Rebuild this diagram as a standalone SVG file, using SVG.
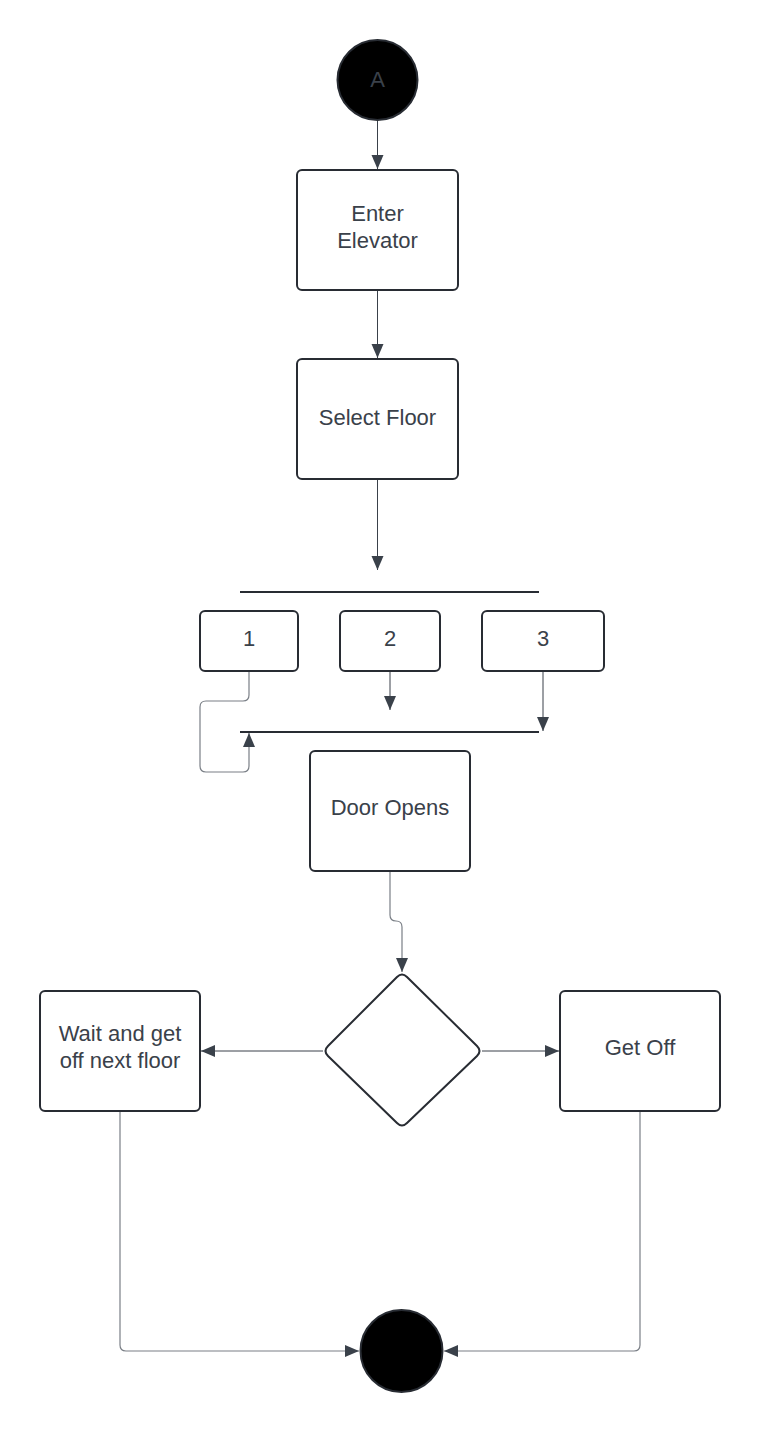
<svg xmlns="http://www.w3.org/2000/svg" width="760" height="1431" viewBox="0 0 760 1431">
<style>
.box{fill:#fff;stroke:#282c33;stroke-width:2}
.bar{stroke:#282c33;stroke-width:2}
.t{font-family:"Liberation Sans",Arial,sans-serif;font-size:22px;fill:#3a414a;text-anchor:middle}
.c{fill:none;stroke:#3a414a;stroke-width:1}
.g{fill:none;stroke:#7a7f86;stroke-width:1.2}
</style>
<defs>
<marker id="ah" markerWidth="14" markerHeight="14" viewBox="0 0 14 14" refX="14" refY="7" orient="auto" markerUnits="userSpaceOnUse">
<path d="M0,1 L14,7 L0,13 Z" fill="#3a414a"/>
</marker>
</defs>
<rect width="760" height="1431" fill="#fff"/>
<g id="connectors">
<path class="c" d="M377.5,121 V169" marker-end="url(#ah)"/>
<path class="c" d="M377.5,291 V358" marker-end="url(#ah)"/>
<path class="c" d="M377.5,480 V570" marker-end="url(#ah)"/>
<path class="g" d="M249,672 V695 Q249,701 243,701 H206 Q200,701 200,707 V766 Q200,772 206,772 H243 Q249,772 249,766 V733" marker-end="url(#ah)"/>
<path class="c" d="M390,672 V710" marker-end="url(#ah)"/>
<path class="c" d="M543,672 V731" marker-end="url(#ah)"/>
<path class="g" d="M390,872 V915 Q390,921 396,921 Q402,921 402,927 V972" marker-end="url(#ah)"/>
<path class="c" d="M323,1051 H201" marker-end="url(#ah)"/>
<path class="c" d="M482,1051 H559" marker-end="url(#ah)"/>
<path class="g" d="M120,1112 V1345 Q120,1351 126,1351 H359" marker-end="url(#ah)"/>
<path class="g" d="M640,1112 V1345 Q640,1351 634,1351 H444" marker-end="url(#ah)"/>
</g>
<g id="start">
<circle cx="377.5" cy="80" r="40" fill="#000" stroke="#282c33" stroke-width="2"/>
<text class="t" x="377.5" y="87">A</text>
</g>
<g id="enter">
<rect class="box" x="297" y="170" width="161" height="120" rx="5"/>
<text class="t" x="377.5" y="221">Enter</text>
<text class="t" x="377.5" y="248">Elevator</text>
</g>
<g id="select">
<rect class="box" x="297" y="359" width="161" height="120" rx="5"/>
<text class="t" x="377.5" y="425">Select Floor</text>
</g>
<g id="fork">
<line class="bar" x1="240" y1="592" x2="539" y2="592"/>
</g>
<g id="n1">
<rect class="box" x="200" y="611" width="98" height="60" rx="5"/>
<text class="t" x="249" y="646">1</text>
</g>
<g id="n2">
<rect class="box" x="340" y="611" width="100" height="60" rx="5"/>
<text class="t" x="390" y="646">2</text>
</g>
<g id="n3">
<rect class="box" x="482" y="611" width="122" height="60" rx="5"/>
<text class="t" x="543" y="646">3</text>
</g>
<g id="join">
<line class="bar" x1="240" y1="732" x2="539" y2="732"/>
</g>
<g id="door">
<rect class="box" x="310" y="751" width="160" height="120" rx="5"/>
<text class="t" x="390" y="815">Door Opens</text>
</g>
<g id="decision">
<path class="box" d="M397,977 Q402,972 407,977 L477,1046 Q482,1051 477,1056 L407,1123 Q402,1128 397,1123 L328,1056 Q323,1051 328,1046 Z"/>
</g>
<g id="wait">
<rect class="box" x="40" y="991" width="160" height="120" rx="5"/>
<text class="t" x="120" y="1041">Wait and get</text>
<text class="t" x="120" y="1068">off next floor</text>
</g>
<g id="getoff">
<rect class="box" x="560" y="991" width="160" height="120" rx="5"/>
<text class="t" x="640" y="1055">Get Off</text>
</g>
<g id="end">
<circle cx="401.5" cy="1351" r="41" fill="#000" stroke="#282c33" stroke-width="2"/>
</g>
</svg>
